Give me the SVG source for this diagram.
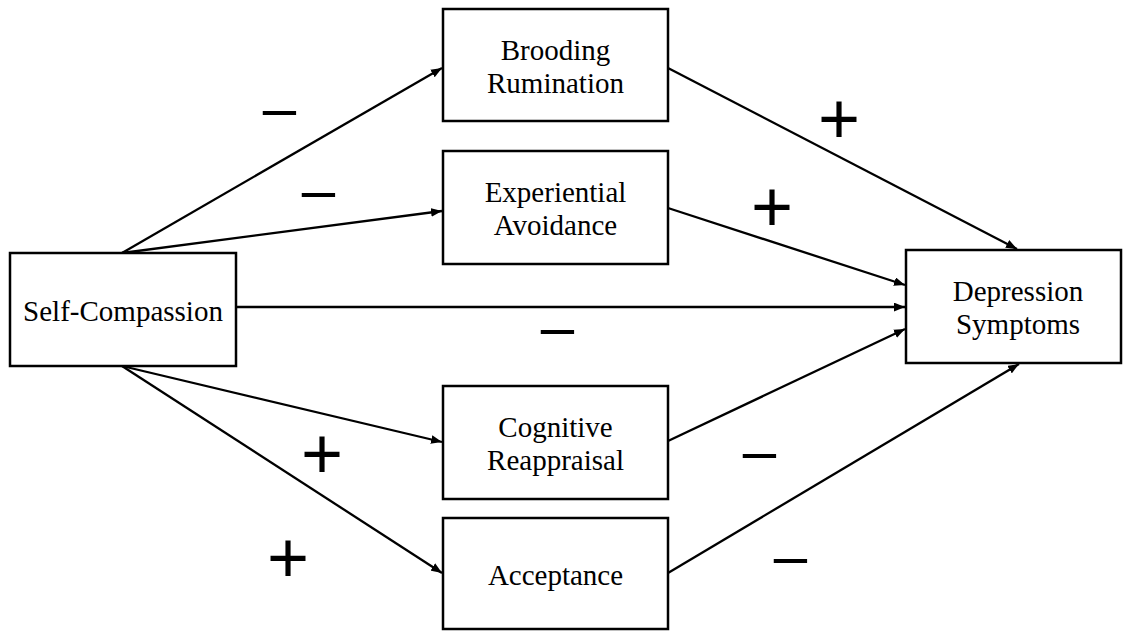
<svg xmlns="http://www.w3.org/2000/svg" width="1125" height="632" viewBox="0 0 1125 632">
<defs>
<style>
.box{fill:#fff;stroke:#000;stroke-width:2.5}
.lbl{font-family:"Liberation Serif","Times New Roman",serif;font-size:29px;text-anchor:middle;fill:#000}
.edge{stroke:#000;stroke-width:2.3;fill:none;marker-end:url(#ah)}
.sign{font-family:"Liberation Sans",Arial,sans-serif;text-anchor:middle;fill:#000}
.plus{font-size:72px}
.minus{font-size:60px}
</style>
<marker id="ah" viewBox="0 0 10 8" refX="10" refY="4" markerWidth="11" markerHeight="9" markerUnits="userSpaceOnUse" orient="auto">
<path d="M0,0 L10,4 L0,8 Z" fill="#000"/>
</marker>
</defs>
<rect width="1125" height="632" fill="#fff"/>
<g id="connectors">
<line class="edge" x1="122" y1="253" x2="442" y2="68"/>
<line class="edge" x1="122" y1="253" x2="442" y2="211"/>
<line class="edge" x1="236" y1="307" x2="905" y2="307"/>
<line class="edge" x1="122" y1="366" x2="442" y2="442"/>
<line class="edge" x1="122" y1="366" x2="442" y2="573"/>
<line class="edge" x1="668" y1="68" x2="1017" y2="249"/>
<line class="edge" x1="668" y1="208" x2="905" y2="285"/>
<line class="edge" x1="668" y1="441" x2="905" y2="329"/>
<line class="edge" x1="668" y1="573" x2="1019" y2="364"/>
</g>
<g id="self-compassion">
<rect class="box" x="10" y="253" width="226" height="113"/>
<text class="lbl" x="123" y="321">Self-Compassion</text>
</g>
<g id="brooding-rumination">
<rect class="box" x="443" y="9" width="225" height="112"/>
<text class="lbl" x="555.5" y="60">Brooding</text>
<text class="lbl" x="555.5" y="93">Rumination</text>
</g>
<g id="experiential-avoidance">
<rect class="box" x="443" y="151" width="225" height="113"/>
<text class="lbl" x="555.5" y="202">Experiential</text>
<text class="lbl" x="555.5" y="235">Avoidance</text>
</g>
<g id="cognitive-reappraisal">
<rect class="box" x="443" y="386" width="225" height="113"/>
<text class="lbl" x="555.5" y="437">Cognitive</text>
<text class="lbl" x="555.5" y="470">Reappraisal</text>
</g>
<g id="acceptance">
<rect class="box" x="443" y="518" width="225" height="111"/>
<text class="lbl" x="555.5" y="585">Acceptance</text>
</g>
<g id="depression-symptoms">
<rect class="box" x="906" y="250" width="215" height="113"/>
<text class="lbl" x="1018" y="301">Depression</text>
<text class="lbl" x="1018" y="334">Symptoms</text>
</g>
<g id="signs">
<text class="sign minus" x="279.5" y="128">–</text>
<text class="sign minus" x="318.5" y="210">–</text>
<text class="sign minus" x="557.5" y="347">–</text>
<text class="sign minus" x="759.5" y="471">–</text>
<text class="sign minus" x="790.5" y="576">–</text>
<text class="sign plus" x="839" y="143">+</text>
<text class="sign plus" x="772" y="231">+</text>
<text class="sign plus" x="322" y="478">+</text>
<text class="sign plus" x="288" y="582">+</text>
</g>
</svg>
